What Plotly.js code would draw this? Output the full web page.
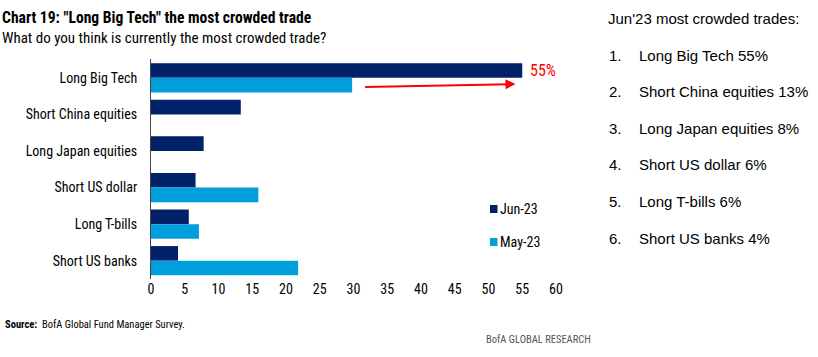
<!DOCTYPE html>
<html>
<head>
<meta charset="utf-8">
<script src="https://cdn.plot.ly/plotly-3.0.1.min.js"></script>
<style>
html,body{margin:0;padding:0;background:#fff;}
#chart{width:818px;height:357px;}
</style>
</head>
<body>
<div id="chart"></div>
<script>
// Data
var categories = ["Long Big Tech", "Short China equities", "Long Japan equities", "Short US dollar", "Long T-bills", "Short US banks"];
var jun23 = [55, 13.3, 7.8, 6.6, 5.6, 4];
var may23 = [29.8, 0, 0, 15.9, 7.1, 21.8];
var seriesNames = ["Jun-23", "May-23"];
var seriesColors = ["#012169", "#009FDB"];
var xTicks = [0, 5, 10, 15, 20, 25, 30, 35, 40, 45, 50, 55, 60];
var listTitle = "Jun'23 most crowded trades:";
var listItems = ["Long Big Tech 55%", "Short China equities 13%", "Long Japan equities 8%", "Short US dollar 6%", "Long T-bills 6%", "Short US banks 4%"];

var NARROW = "'Liberation Sans Narrow', 'Arial Narrow', 'Roboto Condensed', sans-serif";
var SANS = "'Liberation Sans', Arial, sans-serif";

// plot area helpers (pixel -> paper)
var L = 151, T = 59, W = 405, H = 220;
function px(x) { return (x - L) / W; }
function py(y) { return 1 - (y - T) / H; }

var traces = [
  {type: "bar", orientation: "h", name: seriesNames[0], y: categories, x: jun23,
   marker: {color: seriesColors[0]}, hoverinfo: "x+y"},
  {type: "bar", orientation: "h", name: seriesNames[1], y: categories, x: may23,
   marker: {color: seriesColors[1]}, hoverinfo: "x+y"}
];

var annotations = [
  {xref: "paper", yref: "paper", x: px(0), y: py(18), xanchor: "left", yanchor: "middle",
   text: "<b>Chart 19: \"Long Big Tech\" the most crowded trade</b>", showarrow: false,
   font: {family: NARROW, size: 15.6, color: "#000"}},
  {xref: "paper", yref: "paper", x: px(0), y: py(38), xanchor: "left", yanchor: "middle",
   text: "What do you think is currently the most crowded trade?", showarrow: false,
   font: {family: NARROW, size: 15, color: "#000"}},
  // arrow
  {xref: "x", yref: "y", axref: "x", ayref: "y", x: 54, y: 0.17, ax: 31.5, ay: 0.25,
   text: "", showarrow: true, arrowhead: 2, arrowsize: 1, arrowwidth: 2, arrowcolor: "#FF0000"},
  {xref: "x", yref: "y", x: 58, y: -0.2, text: "55%", showarrow: false,
   font: {family: NARROW, size: 16, color: "#FF0000"}},
  // source
  {xref: "paper", yref: "paper", x: px(3), y: py(324), xanchor: "left", yanchor: "middle",
   text: "<b>Source:</b>  BofA Global Fund Manager Survey.", showarrow: false,
   font: {family: NARROW, size: 10.5, color: "#000"}},
  {xref: "paper", yref: "paper", x: px(484), y: py(339), xanchor: "left", yanchor: "middle",
   text: "BofA GLOBAL RESEARCH", showarrow: false,
   font: {family: NARROW, size: 10.5, color: "#555"}},
  // right-hand list
  {xref: "paper", yref: "paper", x: px(606), y: py(18), xanchor: "left", yanchor: "middle",
   text: listTitle, showarrow: false, font: {family: SANS, size: 15, color: "#000"}}
];
for (var i = 0; i < listItems.length; i++) {
  var yy = 55 + i * 36.6;
  annotations.push({xref: "paper", yref: "paper", x: px(607), y: py(yy),
    xanchor: "left", yanchor: "middle", text: (i+1) + ".", showarrow: false,
    font: {family: SANS, size: 15, color: "#000"}});
  annotations.push({xref: "paper", yref: "paper", x: px(637), y: py(yy),
    xanchor: "left", yanchor: "middle", text: listItems[i], showarrow: false,
    font: {family: SANS, size: 15, color: "#000"}});
}

// legend (drawn)
var shapes = [];
var legY = [209, 242];
for (var k = 0; k < seriesNames.length; k++) {
  shapes.push({type: "rect", xref: "paper", yref: "paper", x0: px(490), x1: px(497.5),
    y0: py(legY[k] + 4), y1: py(legY[k] - 4), fillcolor: seriesColors[k], line: {width: 0}});
  annotations.push({xref: "paper", yref: "paper", x: px(498), y: py(legY[k]), xanchor: "left",
    yanchor: "middle", text: seriesNames[k], showarrow: false,
    font: {family: NARROW, size: 14, color: "#000"}});
}

var layout = {
  width: 818, height: 357,
  margin: {l: 151, r: 262, t: 59, b: 78},
  paper_bgcolor: "#fff", plot_bgcolor: "#fff",
  barmode: "group", bargap: 0.2, bargroupgap: 0,
  showlegend: false,
  xaxis: {range: [0, 60], tickvals: xTicks, ticktext: xTicks.map(String), showgrid: false,
    zeroline: false, showline: false, ticks: "", tickfont: {family: NARROW, size: 14, color: "#000"},
    fixedrange: true},
  yaxis: {type: "category", categoryorder: "array", categoryarray: categories, autorange: "reversed",
    showgrid: false, zeroline: false, showline: true, linecolor: "#444", linewidth: 1, ticks: "",
    ticklabelstandoff: 10,
    tickfont: {family: NARROW, size: 14, color: "#000"}, fixedrange: true},
  annotations: annotations,
  shapes: shapes,
  font: {family: NARROW}
};

Plotly.newPlot("chart", traces, layout, {displayModeBar: false, staticPlot: true});
</script>
</body>
</html>
